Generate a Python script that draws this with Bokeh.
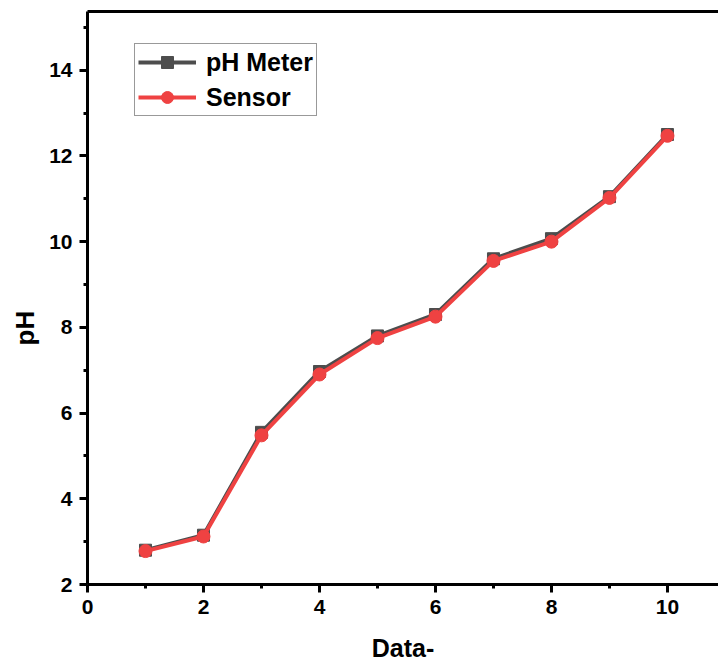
from bokeh.plotting import figure
from bokeh.models import Range1d, LinearAxis, Legend, LegendItem, Title, FixedTicker
from bokeh.embed import file_html
from bokeh.resources import INLINE

# ---- data ----
data_index = [1, 2, 3, 4, 5, 6, 7, 8, 9, 10]
ph_meter = [2.80, 3.15, 5.55, 6.97, 7.80, 8.30, 9.60, 10.07, 11.05, 12.50]
sensor = [2.78, 3.12, 5.48, 6.90, 7.75, 8.25, 9.55, 10.00, 11.02, 12.47]
x_ticks = [0, 2, 4, 6, 8, 10]
y_ticks = [2, 4, 6, 8, 10, 12, 14]

FONT = "Liberation Sans"
GRAY = "#4d4d4d"
RED = "#EF4242"

W, H = 718, 665
p = figure(width=W, height=H, output_backend="svg", toolbar_location=None,
           x_range=Range1d(0, 10.88), y_range=Range1d(2, 15.37),
           min_border_left=87, min_border_right=0, min_border_top=11,
           min_border_bottom=81)
p.outline_line_color = None
p.xgrid.visible = False
p.ygrid.visible = False
p.background_fill_color = "white"
p.border_fill_color = "white"

def style_axis(ax, ticks):
    ax.ticker = FixedTicker(ticks=ticks, minor_ticks=[t + 1 for t in ticks])
    ax.axis_line_width = 3
    ax.axis_line_color = "black"
    ax.major_tick_line_width = 3
    ax.major_tick_line_color = "black"
    ax.major_tick_out = 8
    ax.major_tick_in = 0
    ax.minor_tick_line_width = 3
    ax.minor_tick_line_color = "black"
    ax.minor_tick_out = 4
    ax.minor_tick_in = 0
    ax.major_label_text_font = FONT
    ax.major_label_text_font_style = "bold"
    ax.major_label_text_font_size = "21px"
    ax.major_label_text_color = "black"

style_axis(p.xaxis[0], x_ticks)
style_axis(p.yaxis[0], y_ticks)
p.xaxis[0].major_label_standoff = 7
p.yaxis[0].major_label_standoff = 7

p.xaxis[0].axis_label = "Data-"
p.xaxis[0].axis_label_text_font = FONT
p.xaxis[0].axis_label_text_font_style = "bold"
p.xaxis[0].axis_label_text_font_size = "25px"
p.xaxis[0].axis_label_text_color = "black"
p.xaxis[0].axis_label_standoff = 17

# top frame line (its only tick lies outside the range, so nothing but the line is drawn)
top = LinearAxis(ticker=FixedTicker(ticks=[-100], minor_ticks=[]),
                 axis_line_width=3, axis_line_color="black",
                 major_tick_line_color=None, minor_tick_line_color=None,
                 major_tick_out=0, major_tick_in=0, minor_tick_out=0,
                 major_label_standoff=0)
p.add_layout(top, "above")

# y title (placed along the left side, slightly below centre as in the original)
ytitle = Title(text="pH", align="left", offset=239, standoff=13,
               text_font=FONT, text_font_style="bold", text_font_size="26px",
               text_color="black")
p.add_layout(ytitle, "left")

# series
l1 = p.line(data_index, ph_meter, line_color=GRAY, line_width=4)
s1 = p.scatter(data_index, ph_meter, marker="square", size=12,
               fill_color=GRAY, line_color=GRAY)
l2 = p.line(data_index, sensor, line_color=RED, line_width=4)
s2 = p.scatter(data_index, sensor, marker="circle", size=13,
               fill_color=RED, line_color=RED)

legend = Legend(items=[LegendItem(label="pH Meter", renderers=[l1, s1]),
                       LegendItem(label="Sensor", renderers=[l2, s2])],
                location=(47, 468))
legend.label_text_font = FONT
legend.label_text_font_style = "bold"
legend.label_text_font_size = "25px"
legend.label_text_color = "black"
legend.glyph_width = 58
legend.glyph_height = 30
legend.label_standoff = 10
legend.spacing = 5
legend.padding = 3
legend.margin = 0
legend.border_line_color = "#333333"
legend.border_line_width = 1
legend.background_fill_color = "white"
legend.background_fill_alpha = 1
p.add_layout(legend, "center")

open("out.html", "w").write(file_html(p, INLINE))
